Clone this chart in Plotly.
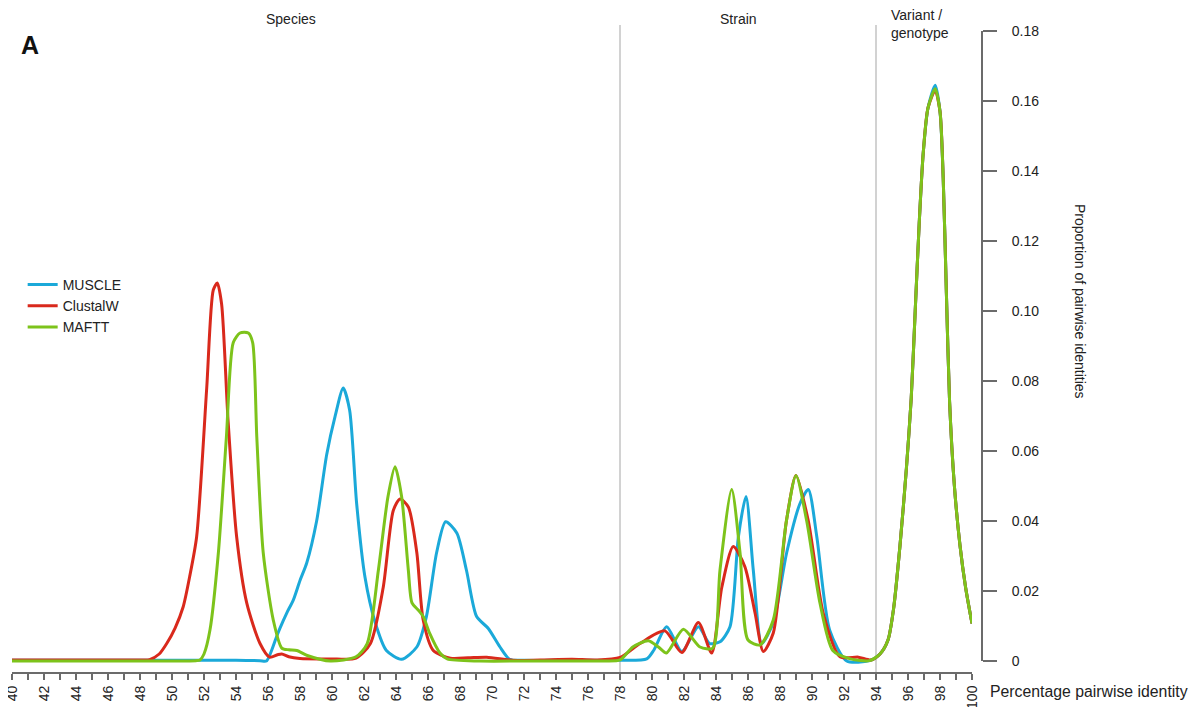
import plotly.graph_objects as go

# ---------------- data ----------------
peak_x = [94.25, 94.75, 95.1, 95.5, 95.9, 96.2, 96.45, 96.7, 96.95, 97.25, 97.7, 98.0, 98.2, 98.4, 98.6, 98.9, 99.25, 99.6, 100]

muscle_x = [40, 45, 50, 54, 55.5, 55.9, 56.54, 56.75, 57.17, 57.58, 58.0, 58.42, 59.04, 59.67, 60.2, 60.7,
            61.1, 61.54, 62.06, 62.7, 63.4, 64.35, 65.3, 65.9, 66.54, 67.1, 67.8, 68.4, 69.04, 69.77, 70.5,
            71.1, 72, 75, 78, 79.67, 80.1, 80.92, 81.86, 82.9, 83.6, 84.25, 84.875, 85.4, 85.875, 86.33,
            86.86, 87.58, 88.42, 89.25, 89.77, 90.3, 91.1, 92.17, 93.6] + peak_x
muscle_y = [0.0002, 0.0002, 0.0002, 0.0002, 0.0001, 0.0, 0.007, 0.0094, 0.0137, 0.0174, 0.023, 0.028, 0.040,
            0.059, 0.070, 0.078, 0.0717, 0.045, 0.024, 0.011, 0.003, 0.0005, 0.004, 0.0127, 0.031, 0.0398,
            0.0366, 0.026, 0.0127, 0.0093, 0.004, 0.0005, 0.0002, 0.0002, 0.0002, 0.0006, 0.003, 0.0098,
            0.0027, 0.0098, 0.005, 0.0055, 0.0098, 0.0355, 0.047, 0.026, 0.005, 0.011, 0.031, 0.045, 0.049,
            0.0355, 0.0089, 0.0, 0.0001,
            0.002, 0.006, 0.015, 0.033, 0.055, 0.075, 0.100, 0.125, 0.145, 0.158, 0.1645, 0.157, 0.138,
            0.105, 0.074, 0.050, 0.033, 0.021, 0.0107]

clustalw_x = [40, 45, 48, 48.6, 49.2, 49.67, 50.2, 50.7, 51.1, 51.54, 52.17, 52.58, 52.83, 53.1, 53.5, 54.04,
              54.67, 55.5, 56.1, 56.6, 56.86, 57.3, 58.0, 59.9, 61.5, 62.4, 63.2, 63.83, 64.25, 64.77, 65.3,
              65.7, 66.33, 67.4, 68.5, 69.67, 71.3, 73, 75, 76.5, 78, 79.25, 80.8, 81.86, 82.9, 83.73, 84.36,
              85.08, 85.8, 86.44, 86.96, 87.58, 88.4, 89.0, 89.77, 90.7, 91.75, 92.9, 93.7] + peak_x
clustalw_y = [0.0003, 0.0003, 0.0003, 0.0004, 0.002, 0.005, 0.0095, 0.0155, 0.024, 0.0355, 0.078, 0.106,
              0.108, 0.102, 0.069, 0.0355, 0.0166, 0.005, 0.0011, 0.0018, 0.002, 0.0012, 0.0007, 0.0006,
              0.0008, 0.005, 0.021, 0.043, 0.0463, 0.044, 0.031, 0.0117, 0.003, 0.0008, 0.0009, 0.0011,
              0.0002, 0.0003, 0.0005, 0.0003, 0.001, 0.005, 0.0086, 0.0024, 0.011, 0.0023, 0.021, 0.0327,
              0.027, 0.0137, 0.0027, 0.008, 0.040, 0.053, 0.040, 0.0137, 0.0012, 0.0011, 0.0003,
              0.002, 0.006, 0.015, 0.033, 0.055, 0.075, 0.100, 0.125, 0.145, 0.158, 0.163, 0.157, 0.138,
              0.105, 0.074, 0.050, 0.033, 0.021, 0.0107]

mafft_x = [40, 45, 50, 51.5, 51.75, 52.0, 52.375, 52.9, 53.4, 53.83, 54.25, 54.77, 55.04, 55.3, 55.7, 56.33,
           56.86, 57.3, 57.8, 58.5, 59.9, 61.5, 62.2, 62.9, 63.5, 63.94, 64.35, 64.77, 65.0, 65.4, 65.7, 66.1,
           66.75, 67.2, 69.25, 72, 75, 77, 78, 78.8, 79.77, 80.4, 80.9, 81.96, 83.0, 83.8, 84.25, 84.98, 85.5,
           86.0, 86.75, 87.58, 88.4, 89.0, 89.67, 90.5, 91.3, 92.4, 93.6] + peak_x
mafft_y = [0.0, 0.0, 0.0, 0.0001, 0.0003, 0.002, 0.0089, 0.031, 0.064, 0.091, 0.0937, 0.0937, 0.091, 0.064,
           0.031, 0.0117, 0.0037, 0.0032, 0.003, 0.0015, 0.0, 0.0012, 0.005, 0.026, 0.047, 0.0555, 0.047,
           0.026, 0.0166, 0.0145, 0.0127, 0.008, 0.0023, 0.0006, 0.0, 0.0, 0.0, 0.0, 0.0003, 0.004, 0.0058,
           0.004, 0.0023, 0.0091, 0.004, 0.0037, 0.026, 0.049, 0.031, 0.006, 0.0046, 0.0117, 0.040, 0.053,
           0.040, 0.0165, 0.003, 0.0006, 0.0001,
           0.002, 0.006, 0.015, 0.033, 0.055, 0.075, 0.100, 0.125, 0.145, 0.158, 0.1635, 0.157, 0.138,
           0.105, 0.074, 0.050, 0.033, 0.021, 0.0107]

series_names = ["MUSCLE", "ClustalW", "MAFTT"]
series_colors = ["#1ba9d9", "#d9291c", "#7dc31b"]

x_ticks = list(range(40, 101))
x_ticktext = [str(v) if v % 2 == 0 else "" for v in x_ticks]
y_ticks = [0, 0.02, 0.04, 0.06, 0.08, 0.10, 0.12, 0.14, 0.16, 0.18]
y_ticktext = ["0", "0.02", "0.04", "0.06", "0.08", "0.10", "0.12", "0.14", "0.16", "0.18"]
section_bounds = [78, 94]

# ---------------- figure ----------------
FONT = "Liberation Sans, Arial, sans-serif"
AXC = "#6b6b6b"
YMIN, YMAX = -0.00314, 0.1817
OFF = 8  # page body margin

fig = go.Figure()
for name, xs, ys, col in zip(series_names,
                             [muscle_x, clustalw_x, mafft_x],
                             [muscle_y, clustalw_y, mafft_y],
                             series_colors):
    fig.add_trace(go.Scatter(x=xs, y=ys, mode="lines", name=name,
                             line=dict(color=col, width=3, shape="spline", smoothing=0.7)))

def yp(v):
    return (v - YMIN) / (YMAX - YMIN)

shapes = []
for b in section_bounds:
    shapes.append(dict(type="line", xref="x", yref="y", x0=b, x1=b, y0=YMIN, y1=YMAX,
                       line=dict(color="#d2d2d2", width=2), layer="below"))
shapes.append(dict(type="line", xref="paper", yref="paper", x0=1, x1=1, y0=yp(0), y1=yp(0.18),
                   line=dict(color=AXC, width=2)))

W_PAPER = 970.0
def py(p):
    return (672 - p) / 647.0
def px(p):
    return (p - 12) / W_PAPER

annotations = [
    dict(text="<b>A</b>", x=px(30), xref="paper", y=py(45), yref="paper", showarrow=False,
         xanchor="center", yanchor="middle",
         font=dict(family="Liberation Sans, Arial", size=25, color="#111")),
    dict(text="Species", x=px(291), xref="paper", y=py(19), yref="paper", showarrow=False,
         xanchor="center", yanchor="middle", font=dict(family=FONT, size=14, color="#222")),
    dict(text="Strain", x=px(738), xref="paper", y=py(19), yref="paper", showarrow=False,
         xanchor="center", yanchor="middle", font=dict(family=FONT, size=14, color="#222")),
    dict(text="Variant /<br>genotype", x=px(889), xref="paper", xanchor="left", align="left",
         y=py(5), yref="paper", yanchor="top", showarrow=False,
         font=dict(family=FONT, size=14, color="#222")),
    dict(text="Proportion of pairwise identities", x=px(1080), xref="paper",
         y=py(301), yref="paper", textangle=90, showarrow=False, xanchor="center", yanchor="middle",
         font=dict(family=FONT, size=14, color="#222")),
    dict(text="Percentage pairwise identity", x=px(988), xref="paper", xanchor="left",
         y=py(691), yref="paper", yanchor="middle", showarrow=False,
         font=dict(family=FONT, size=15.8, color="#222")),
]

fig.update_layout(
    width=1201 - OFF, height=707 - OFF,
    margin=dict(l=12 - OFF, r=219, t=25 - OFF, b=35, autoexpand=False),
    paper_bgcolor="white", plot_bgcolor="white",
    showlegend=True,
    legend=dict(x=0.011, y=py(269), xanchor="left", yanchor="top",
                bgcolor="rgba(0,0,0,0)", font=dict(family=FONT, size=14, color="#222"),
                tracegroupgap=0),
    xaxis=dict(domain=[0, 960 / W_PAPER], range=[40, 100], tickmode="array", tickvals=x_ticks,
               ticktext=x_ticktext, tickangle=-90, ticks="outside", ticklen=6, tickwidth=2,
               tickcolor=AXC, showline=True, linecolor=AXC, linewidth=2, showgrid=False,
               zeroline=False, automargin=False, ticklabeloverflow="allow",
               tickfont=dict(family=FONT, size=14, color="#222")),
    yaxis=dict(range=[YMIN, YMAX], anchor="free", position=1, side="right", tickmode="array",
               tickvals=y_ticks, ticktext=y_ticktext, ticks="outside", ticklen=14, tickwidth=2,
               tickcolor=AXC, showline=False, showgrid=False, zeroline=False, automargin=False,
               ticklabeloverflow="allow",
               ticklabelstandoff=12, tickfont=dict(family=FONT, size=14, color="#222")),
    shapes=shapes,
    annotations=annotations,
)

fig.write_html("out.html")
